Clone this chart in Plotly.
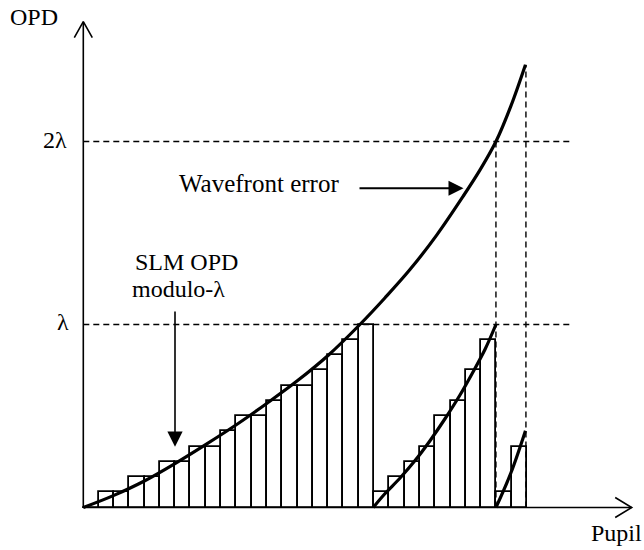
import plotly.graph_objects as go

# ---------------- data (pupil coordinate in SLM-pixel units, OPD in units of lambda) ----------
slm_pixel = list(range(29))
slm_level_12ths = [0, 1, 1, 2, 2, 3, 3, 4, 4, 5, 6, 6, 7, 8, 8, 9, 10, 11, 12,
                   1, 2, 3, 4, 6, 7, 9, 11,
                   1, 4]

wf_x = [0, 1.96, 3.99, 5.99, 8.02, 10.05, 12.01, 14.03, 16.05, 18.08,
        19.71, 21.35, 23.11, 24.82, 25.93, 26.97, 27.95, 28.9]
wf_opd = [0, 0.065, 0.145, 0.24, 0.345, 0.455, 0.57, 0.695, 0.835, 1.0,
          1.145, 1.30, 1.49, 1.70, 1.845, 2.0, 2.195, 2.42]

wrap1_x = [18.95, 19.71, 20.69, 21.67, 22.66, 23.64, 24.62, 25.4, 26.26, 26.97]
wrap1_opd = [0, 0.075, 0.16, 0.255, 0.365, 0.485, 0.615, 0.73, 0.865, 1.0]

wrap2_x = [26.97, 27.95, 28.9]
wrap2_opd = [0, 0.19, 0.42]

level_values = [1, 2]
level_labels = ["λ", "2λ"]
wrap_points_x = [26.97, 28.93]
wrap_points_top = [2.0, 2.42]

# ---------------- layout geometry ----------------
W, H = 644, 550
X0_PX, Y0_PX = 83.3, 507.5      # origin of the sketch
SX, SY = 15.3, 183.0            # px per SLM pixel, px per lambda


def X(px):
    return (px - X0_PX) / SX


def Y(py):
    return (Y0_PX - py) / SY


FONT = "Liberation Serif, Times New Roman, serif"
FS = 24

fig = go.Figure()

# dashed reference levels (lambda, 2 lambda)
x_dash_end = X(572)
for lv in level_values:
    fig.add_trace(go.Scatter(x=[0, x_dash_end], y=[lv, lv], mode="lines",
                             line=dict(color="black", width=1.4, dash="6px,4px"),
                             hoverinfo="skip"))
# dashed verticals at the wrap points
for xv, top in zip(wrap_points_x, wrap_points_top):
    fig.add_trace(go.Scatter(x=[xv, xv], y=[0, top], mode="lines",
                             line=dict(color="black", width=1.4, dash="6px,4px"),
                             hoverinfo="skip"))

# SLM bars (quantized OPD)
fig.add_trace(go.Bar(x=[p + 0.5 for p in slm_pixel],
                     y=[lv / 12 for lv in slm_level_12ths],
                     width=1.0,
                     marker=dict(color="white", line=dict(color="black", width=1.8)),
                     hoverinfo="skip"))

# wavefront error and wrapped segments
for xs, ys in [(wf_x, wf_opd), (wrap1_x, wrap1_opd), (wrap2_x, wrap2_opd)]:
    fig.add_trace(go.Scatter(x=xs, y=ys, mode="lines",
                             line=dict(color="black", width=3.2, shape="spline", smoothing=1.0),
                             hoverinfo="skip"))

# axes with open arrow heads
y_top = Y(21.7)
x_end = X(631.7)
fig.add_trace(go.Scatter(x=[0, 0], y=[0, y_top], mode="lines",
                         line=dict(color="black", width=1.6), hoverinfo="skip"))
fig.add_trace(go.Scatter(x=[0, x_end], y=[0, 0], mode="lines",
                         line=dict(color="black", width=1.6), hoverinfo="skip"))
fig.add_trace(go.Scatter(x=[-9 / SX, 0, 9 / SX], y=[y_top - 16 / SY, y_top, y_top - 16 / SY],
                         mode="lines", line=dict(color="black", width=1.6), hoverinfo="skip"))
fig.add_trace(go.Scatter(x=[x_end - 16.5 / SX, x_end, x_end - 16.5 / SX],
                         y=[10 / SY, 0, -10 / SY],
                         mode="lines", line=dict(color="black", width=1.6), hoverinfo="skip"))

ann = []


def label(text, px, py, xanchor, size=FS):
    ann.append(dict(x=X(px), y=Y(py), xref="x", yref="y", text=text, showarrow=False,
                    xanchor=xanchor, yanchor="middle",
                    font=dict(family=FONT, size=size, color="black")))


label("OPD", 8, 17, "left")
label("Pupil", 589, 533, "left")
label(level_labels[1], 69, 140, "right")
label(level_labels[0], 71, 322, "right")
label("Wavefront error", 177, 183, "left", 25)
label("SLM OPD", 133, 262, "left")
label("modulo-λ", 130, 289, "left")

# pointer arrows
ann.append(dict(x=X(463.5), y=Y(188.3), ax=X(358), ay=Y(188.3), xref="x", yref="y",
                axref="x", ayref="y", text="", showarrow=True, arrowhead=2,
                arrowwidth=2, arrowsize=1.5, arrowcolor="black", standoff=0))
ann.append(dict(x=X(175), y=Y(446.7), ax=X(175), ay=Y(310), xref="x", yref="y",
                axref="x", ayref="y", text="", showarrow=True, arrowhead=2,
                arrowwidth=1.6, arrowsize=1.9, arrowcolor="black", standoff=0))

fig.update_layout(
    width=W, height=H,
    margin=dict(l=0, r=0, t=0, b=0),
    paper_bgcolor="white", plot_bgcolor="white",
    showlegend=False,
    xaxis=dict(range=[X(0), X(W)], visible=False, fixedrange=True),
    yaxis=dict(range=[Y(H), Y(0)], visible=False, fixedrange=True),
    annotations=ann,
    bargap=0,
)

fig.write_html("out.html", config={"displayModeBar": False})
